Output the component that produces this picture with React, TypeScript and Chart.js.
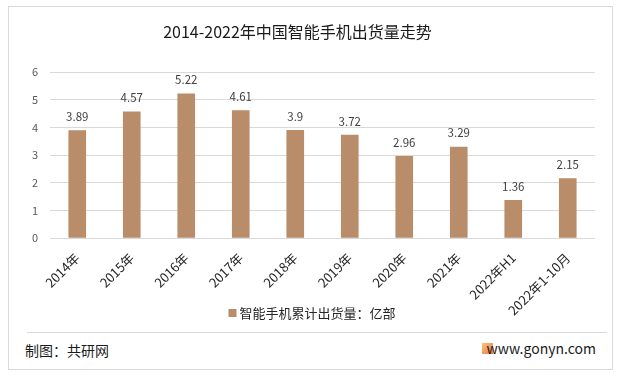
import React, { useEffect, useRef } from "react";
import { Chart, registerables } from "chart.js";

Chart.register(...registerables);

const categories = ["2014年", "2015年", "2016年", "2017年", "2018年", "2019年", "2020年", "2021年", "2022年H1", "2022年1-10月"];
const shipments = [3.89, 4.57, 5.22, 4.61, 3.9, 3.72, 2.96, 3.29, 1.36, 2.15];
const valueLabels = ["3.89", "4.57", "5.22", "4.61", "3.9", "3.72", "2.96", "3.29", "1.36", "2.15"];
const seriesName = "智能手机累计出货量：亿部";
const titleText = "2014-2022年中国智能手机出货量走势";

const FONT = "'Noto Sans CJK SC', 'Microsoft YaHei', sans-serif";

const valueLabelPlugin = {
  id: "valueLabels",
  afterDatasetsDraw(chart: any) {
    const ctx = chart.ctx;
    const meta = chart.getDatasetMeta(0);
    ctx.save();
    ctx.font = `11.5px ${FONT}`;
    ctx.fillStyle = "#404040";
    ctx.textAlign = "center";
    ctx.textBaseline = "middle";
    meta.data.forEach((bar: any, i: number) => {
      ctx.fillText(valueLabels[i], bar.x, bar.y - 14);
    });
    ctx.restore();
  },
};

const bottomLegendPlugin = {
  id: "bottomLegend",
  afterDraw(chart: any) {
    const ctx = chart.ctx;
    const ds = chart.data.datasets[0];
    ctx.save();
    ctx.font = `13px ${FONT}`;
    const tw = ctx.measureText(ds.label).width;
    const box = 8;
    const gap = 3;
    const total = box + gap + tw;
    const x0 = chart.width / 2 - total / 2 + 2;
    const cy = 313;
    ctx.fillStyle = ds.backgroundColor;
    ctx.fillRect(x0, cy - box / 2, box, box);
    ctx.fillStyle = "#262626";
    ctx.textAlign = "left";
    ctx.textBaseline = "middle";
    ctx.fillText(ds.label, x0 + box + gap, cy + 0.5);
    ctx.restore();
  },
};

export default function App() {
  const ref = useRef<HTMLCanvasElement | null>(null);

  useEffect(() => {
    if (!ref.current) return;
    const chart = new Chart(ref.current, {
      type: "bar",
      data: {
        labels: categories,
        datasets: [
          {
            label: seriesName,
            data: shipments,
            backgroundColor: "#BA8D6A",
            barThickness: 17,
          },
        ],
      },
      options: {
        animation: false,
        responsive: false,
        maintainAspectRatio: false,
        layout: { padding: { left: 0, right: 25, top: 0, bottom: 0 } },
        plugins: {
          title: {
            display: true,
            text: titleText,
            color: "#1a1a1a",
            font: { family: FONT, size: 16, weight: "normal" },
            padding: { top: 22, bottom: 31 },
          },
          legend: { display: false },
          tooltip: { enabled: false },
        },
        scales: {
          x: {
            grid: { display: false },
            border: { display: false },
            ticks: {
              color: "#262626",
              font: { family: FONT, size: 13 },
              minRotation: 45,
              maxRotation: 45,
              autoSkip: false,
              padding: 4,
            },
            afterFit(scale: any) {
              scale.height = 94;
            },
          },
          y: {
            min: 0,
            max: 6,
            grid: { color: "#d9d9d9", drawTicks: false },
            border: { display: false },
            ticks: {
              stepSize: 1,
              color: "#595959",
              font: { family: FONT, size: 11 },
              padding: 12,
            },
            afterFit(scale: any) {
              scale.width = 50;
            },
          },
        },
      },
      plugins: [valueLabelPlugin, bottomLegendPlugin],
    });
    return () => chart.destroy();
  }, []);

  return (
    <div style={{ position: "fixed", left: 0, top: 0, width: 620, height: 377, background: "#fff", fontFamily: FONT }}>
      <div style={{ position: "absolute", left: 8, top: 6, width: 605, height: 364, border: "1px solid #d9d9d9", boxSizing: "border-box" }} />
      <canvas ref={ref} width={620} height={332} style={{ position: "absolute", left: 0, top: 0, width: 620, height: 332 }} />
      <div style={{ position: "absolute", left: 27, top: 332, width: 580, height: 1, background: "#d9d9d9" }} />
      <div style={{ position: "absolute", left: 25, top: 340, fontSize: 14, color: "#1a1a1a", lineHeight: "20px" }}>制图：共研网</div>
      <div style={{ position: "absolute", left: 482, top: 343, width: 11, height: 11, background: "linear-gradient(135deg, #f9c27a, #ec7a45)" }} />
      <div style={{ position: "absolute", right: 24, top: 338, fontSize: 14, color: "#1a1a1a", lineHeight: "20px" }}>www.gonyn.com</div>
    </div>
  );
}
